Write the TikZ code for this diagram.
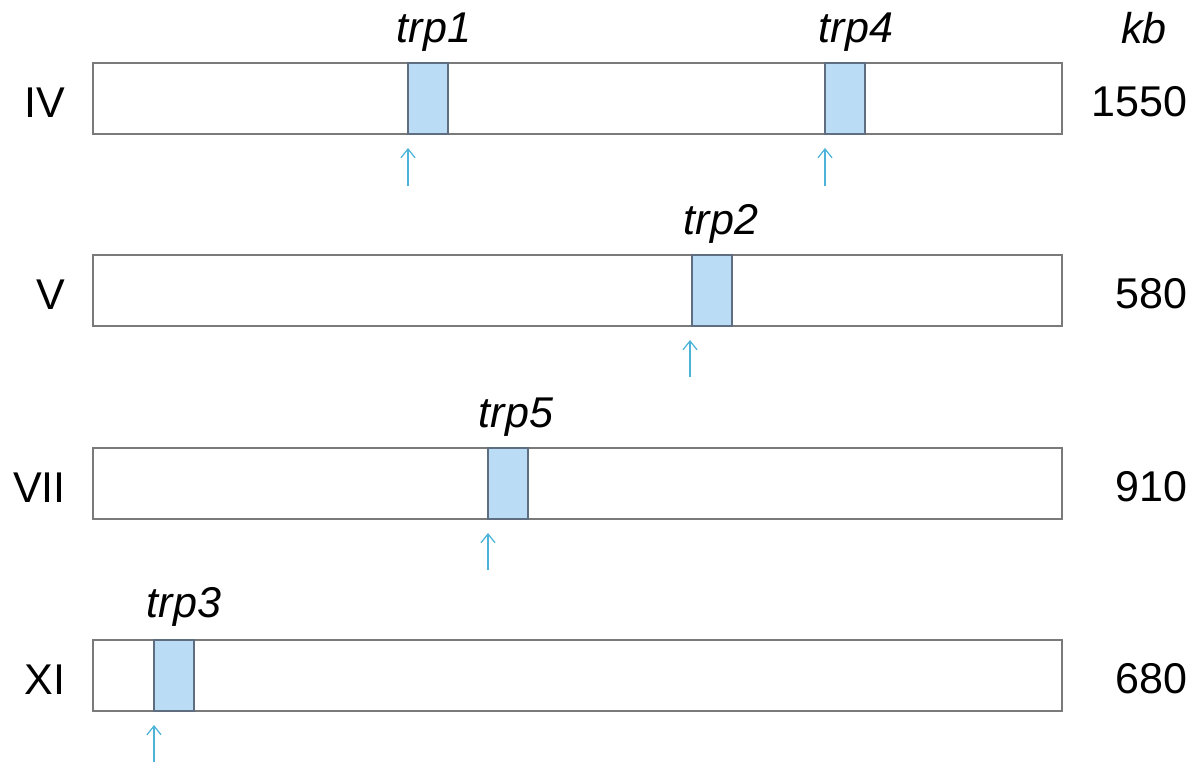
\documentclass[tikz,border=0pt]{standalone}
\usepackage{fontspec}
\setmainfont{Liberation Sans}
\usetikzlibrary{arrows.meta}
\definecolor{bandblue}{HTML}{BBDCF5}
\definecolor{bandline}{HTML}{5E6E80}
\definecolor{arrowcyan}{HTML}{4DB3D9}
\definecolor{chromline}{HTML}{7A7A7A}
\tikzset{
  chrom/.style={draw=chromline, line width=1.1pt, fill=white, minimum width=19.38cm, minimum height=1.42cm, inner sep=0pt, outer sep=0pt, anchor=north west},
  band/.style={draw=bandline, line width=0.9pt, fill=bandblue, minimum width=0.8cm, minimum height=1.42cm, inner sep=0pt, outer sep=0pt, anchor=north west},
  arr/.style={draw=arrowcyan, line width=0.7pt, -{Straight Barb[length=5pt,width=8pt]}, shorten >=0.28cm},
  lbl/.style={font=\fontsize{24.5}{28}\selectfont, inner sep=0pt, anchor=base east},
  gene/.style={font=\fontsize{24.5}{28}\selectfont\itshape, inner sep=0pt, anchor=base},
}
\begin{document}
\begin{tikzpicture}[x=0.02cm, y=-0.02cm]
\useasboundingbox (0,0) rectangle (1203,762);
% chromosomes
\node[chrom] (c4) at (93,63) {};
\node[chrom] (c5) at (93,255) {};
\node[chrom] (c7) at (93,448) {};
\node[chrom] (c11) at (93,640) {};
% bands
\node[band] (b1) at (408,63) {};
\node[band] (b4) at (825,63) {};
\node[band] (b2) at (692,255) {};
\node[band] (b5) at (488,448) {};
\node[band] (b3) at (154,640) {};
% gene labels
\node[gene] (t1) at (434,42) {trp1};
\node[gene] (t4) at (856,42) {trp4};
\node[gene] (t2) at (721,234) {trp2};
\node[gene] (t5) at (516,427) {trp5};
\node[gene] (t3) at (184,617) {trp3};
% chromosome names
\node[lbl] (n4) at (66,117) {IV};
\node[lbl] (n5) at (66,309) {V};
\node[lbl] (n7) at (66,502) {VII};
\node[lbl] (n11) at (66,694) {XI};
% sizes
\node[gene] (kb) at (1144,43) {kb};
\node[lbl] (s4) at (1188,116) {1550};
\node[lbl] (s5) at (1188,308) {580};
\node[lbl] (s7) at (1188,501) {910};
\node[lbl] (s11) at (1188,693) {680};
% arrows
\coordinate (a1) at (408,186);
\coordinate (a4) at (825,186);
\coordinate (a2) at (690,377);
\coordinate (a5) at (488,570);
\coordinate (a3) at (154,762);
\draw[arr] (a1) -- (b1.south west);
\draw[arr] (a4) -- (b4.south west);
\draw[arr] (a2) -- (a2 |- b2.south);
\draw[arr] (a5) -- (b5.south west);
\draw[arr] (a3) -- (b3.south west);
\end{tikzpicture}
\end{document}
